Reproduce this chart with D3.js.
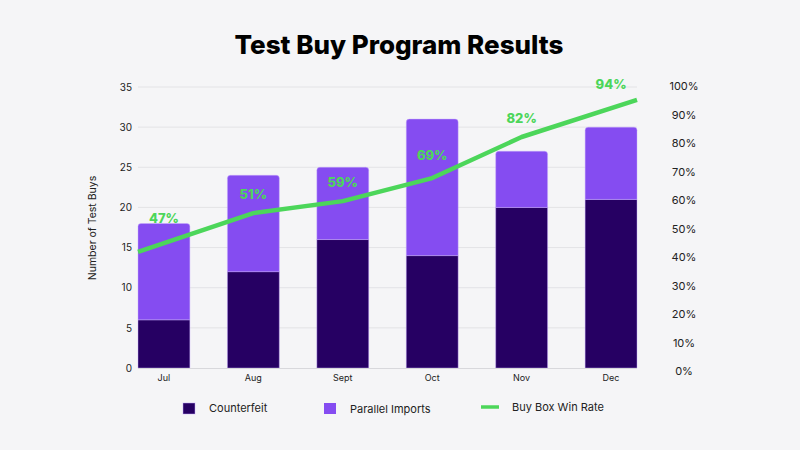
<!DOCTYPE html>
<html><head><meta charset="utf-8">
<script src="https://cdn.jsdelivr.net/npm/d3@7"></script>
<style>
html,body{margin:0;padding:0;background:#f5f5f7;}
svg{display:block;font-family:Inter,"Noto Sans",sans-serif;}
</style></head>
<body>
<svg id="c" width="800" height="450"></svg>
<script>
const months = ["Jul","Aug","Sept","Oct","Nov","Dec"];
const counterfeit = [6,12,16,14,20,21];
const parallelImports = [12,12,9,17,7,9];
const winRate = [41.8,55.4,59.6,67.7,82.1,95.1];
const winRateLabels = ["47%","51%","59%","69%","82%","94%"];
const labelValues = [47,51,59,69,82,94];
const leftTicks = [0,5,10,15,20,25,30,35];
const rightTicks = [0,10,20,30,40,50,60,70,80,90,100];

const cDark = "#260063", cPurple = "#854cf1", cGreen = "#4cd65a";
const svg = d3.select("#c");
const L = 138, R = 637;
const x = d3.scaleBand().domain(months).range([L,R]).paddingInner(0.42).paddingOuter(0);
const y = d3.scaleLinear().domain([0,35]).range([368,87]);
const y2 = d3.scaleLinear().domain([0,100]).range([371,86]);

svg.append("text").attr("x",399).attr("y",54).attr("text-anchor","middle")
  .attr("font-size",26).attr("font-weight",800).attr("fill","#000").text("Test Buy Program Results");

// grid
svg.append("g").selectAll("line").data(leftTicks.slice(1)).join("line")
  .attr("x1",L).attr("x2",R).attr("y1",d=>y(d)).attr("y2",d=>y(d))
  .attr("stroke","#e3e3e6").attr("stroke-width",1);

// left axis
const ga = svg.append("g").attr("transform",`translate(${L},0)`)
  .call(d3.axisLeft(y).tickValues(leftTicks).tickSize(0).tickPadding(6));
ga.select(".domain").remove();
ga.selectAll("text").attr("font-size",10).attr("fill","#222").attr("font-family","Inter,sans-serif");

svg.append("text").attr("transform","translate(96,228) rotate(-90)").attr("text-anchor","middle")
  .attr("font-size",10.5).attr("fill","#222").text("Number of Test Buys");

// right axis
const gr = svg.append("g").attr("transform",`translate(684,0)`)
  .call(d3.axisRight(y2).tickValues(rightTicks).tickSize(0).tickPadding(0).tickFormat(d=>d+"%"));
gr.select(".domain").remove();
gr.selectAll("text").attr("text-anchor","middle").attr("font-size",11).attr("fill","#222").attr("font-family","Inter,sans-serif");

// bars
const stackData = months.map((m,i)=>({m,c:counterfeit[i],p:parallelImports[i]}));
const stack = d3.stack().keys(["c","p"])(stackData);
const colors = {c:cDark,p:cPurple};
function topRounded(x0,y0,w,h,r){
  return `M${x0},${y0+h}V${y0+r}Q${x0},${y0} ${x0+r},${y0}H${x0+w-r}Q${x0+w},${y0} ${x0+w},${y0+r}V${y0+h}Z`;
}
stack.forEach(layer=>{
  svg.append("g").selectAll("path").data(layer).join("path")
    .attr("d",d=>{
      const x0=x(d.data.m), w=x.bandwidth(), y0=y(d[1]), h=y(d[0])-y(d[1]);
      return layer.key==="p" ? topRounded(x0,y0,w,h,3) : `M${x0},${y0}h${w}v${h}h${-w}Z`;
    })
    .attr("fill",colors[layer.key]).attr("stroke","rgba(200,170,255,0.55)").attr("stroke-width",0.8);
});

// baseline
svg.append("line").attr("x1",L).attr("x2",R).attr("y1",y(0)+0.5).attr("y2",y(0)+0.5)
  .attr("stroke","#d8d8dc").attr("stroke-width",1);

// x labels
svg.append("g").selectAll("text").data(months).join("text")
  .attr("x",d=>x(d)+x.bandwidth()/2).attr("y",381).attr("text-anchor","middle")
  .attr("font-size",9).attr("fill","#222").text(d=>d);

// line
const lx = (i)=> i===0 ? x(months[0]) : i===months.length-1 ? x(months[i])+x.bandwidth() : x(months[i])+x.bandwidth()/2;
const pts = winRate.map((v,i)=>[lx(i), y2(v)]);
const line = d3.line();
svg.append("path").datum(pts).attr("d",line).attr("fill","none")
  .attr("stroke",cGreen).attr("stroke-width",4.5).attr("stroke-linejoin","round");

function lineYAt(px){
  for(let k=0;k<pts.length-1;k++){
    const [x0,y0]=pts[k],[x1,y1]=pts[k+1];
    if(px>=x0 && px<=x1) return y0+(y1-y0)*(px-x0)/(x1-x0);
  }
  return pts[pts.length-1][1];
}

// labels
svg.append("g").selectAll("text").data(labelValues).join("text")
  .attr("x",(d,i)=>x(months[i])+x.bandwidth()/2)
  .attr("y",(d,i)=>Math.min(y2(d), lineYAt(x(months[i])+x.bandwidth()/2)) - 14)
  .attr("text-anchor","middle").attr("font-size",13).attr("font-weight",800)
  .attr("fill",cGreen).text((d,i)=>winRateLabels[i]);

// legend
const lg = svg.append("g");
lg.append("rect").attr("x",183).attr("y",403).attr("width",12).attr("height",11).attr("fill",cDark).attr("stroke","rgba(200,170,255,0.6)").attr("stroke-width",0.8);
lg.append("text").attr("x",209).attr("y",412).attr("font-size",11).attr("fill","#222").text("Counterfeit");
lg.append("rect").attr("x",324).attr("y",403).attr("width",12).attr("height",11).attr("fill",cPurple);
lg.append("text").attr("x",350).attr("y",413).attr("font-size",11).attr("fill","#222").text("Parallel Imports");
lg.append("line").attr("x1",481).attr("x2",499).attr("y1",407).attr("y2",407).attr("stroke",cGreen).attr("stroke-width",3.5);
lg.append("text").attr("x",512).attr("y",411).attr("font-size",11).attr("fill","#222").text("Buy Box Win Rate");
</script>
</body></html>
